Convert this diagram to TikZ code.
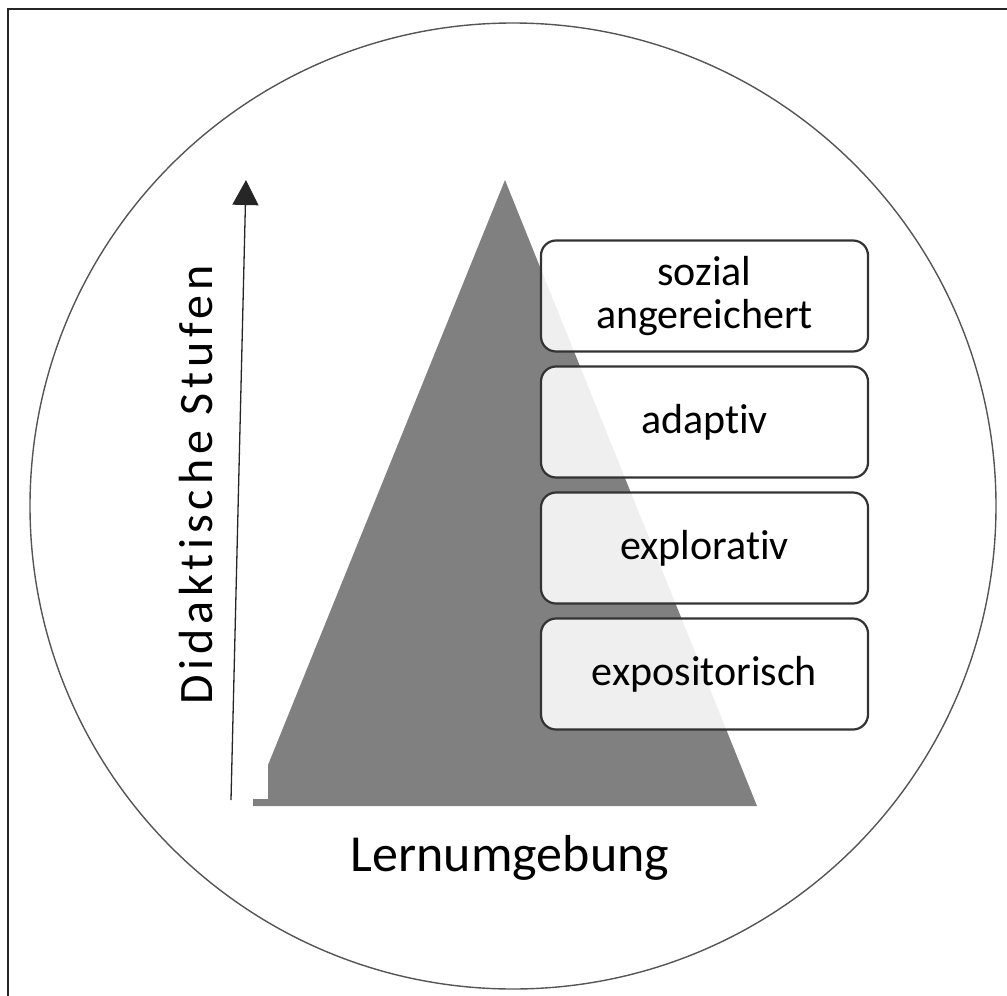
\documentclass[tikz,border=0pt]{standalone}
\usepackage{fontspec}
\setmainfont[Ligatures=NoCommon]{Carlito}
\newfontfamily\spacedfont[LetterSpace=10,Ligatures=NoCommon]{Carlito}
\usepackage{xcolor}
\usepackage{tikz}
\usetikzlibrary{arrows.meta,positioning}
\definecolor{pyrgray}{HTML}{808080}
\definecolor{boxline}{HTML}{333333}
\definecolor{ringgray}{HTML}{555555}
\tikzset{
  frame/.style={line width=2pt,black!85},
  ring/.style={line width=1.4pt,ringgray},
  pyr/.style={fill=pyrgray},
  stufe/.style={draw=boxline,line width=2.2pt,rounded corners=15pt,fill=white,
                fill opacity=0.88,text opacity=1,minimum width=327pt,minimum height=111pt,
                align=center,font=\fontsize{42}{43}\selectfont},
  achse/.style={-{Triangle[width=26pt,length=25pt]},line width=1.3pt,black!85},
  lbl/.style={font=\fontsize{52}{56}\selectfont},
}
\begin{document}
\begin{tikzpicture}[x=1pt,y=-1pt]
  \useasboundingbox (0,0) rectangle (1007,996);
  \draw[frame] (8,996) -- (8,9) -- (1007,9);
  \draw[ring] (513,506) circle (483pt);

  % Pyramide
  \fill[pyr] (253,806) -- (253,799) -- (268,799) -- (268,765) -- (505,180) -- (757,806) -- cycle;

  % Stufen
  \node[stufe] (sozial) at (704.5,296) {sozial\\angereichert};
  \node[stufe,below=12.8pt of sozial] (adaptiv) {adaptiv};
  \node[stufe,below=12.8pt of adaptiv] (explorativ) {explorativ};
  \node[stufe,below=12.8pt of explorativ] (expo) {expositorisch};

  % Achse
  \coordinate (achse0) at (231,800);
  \coordinate (achse1) at (246,180);
  \draw[achse] (achse0) -- (achse1);
  \node[rotate=90,font=\fontsize{48}{52}\selectfont] (stufen) at (196,485) {\spacedfont Didaktische Stufen};
  \node[lbl] (umgebung) at (510,858) {Lernumgebung};
\end{tikzpicture}
\end{document}
